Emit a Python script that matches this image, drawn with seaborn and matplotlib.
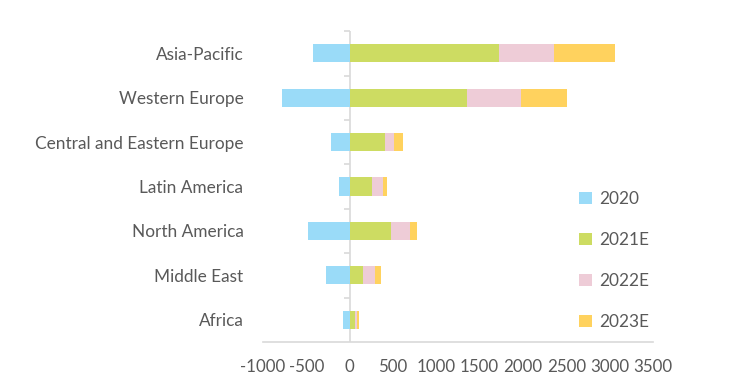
import numpy as np
import pandas as pd
import seaborn as sns
import matplotlib.pyplot as plt
from matplotlib.patches import Patch

regions = ["Asia-Pacific", "Western Europe", "Central and Eastern Europe",
           "Latin America", "North America", "Middle East", "Africa"]
v2020 = [-425, -780, -220, -125, -480, -275, -75]
v2021 = [1725, 1360, 410, 260, 475, 160, 65]
v2022 = [630, 615, 100, 130, 220, 130, 25]
v2023 = [705, 530, 105, 45, 80, 70, 20]

series = ["2020", "2021E", "2022E", "2023E"]
colors = ["#9adbf8", "#cddc62", "#eeccd7", "#ffd25e"]

df = pd.DataFrame({"Region": regions, "2020": v2020, "2021E": v2021,
                   "2022E": v2022, "2023E": v2023})
# cumulative ends for stacking the positive parts
df["c21"] = df["2021E"]
df["c22"] = df["c21"] + df["2022E"]
df["c23"] = df["c22"] + df["2023E"]

sns.set_theme(style="white")
plt.rcParams["font.family"] = ["Lato", "DejaVu Sans"]
plt.rcParams["axes.unicode_minus"] = False
txt = "#595959"

fig = plt.figure(figsize=(7.47, 3.89), dpi=100)
ax = fig.add_axes([0.352, 0.121, 0.522, 0.799])

w = 0.41
for col, c in zip(["c23", "c22", "c21", "2020"], colors[::-1][:3] + [colors[0]]):
    sns.barplot(data=df, x=col, y="Region", color=c, width=w, orient="h",
                linewidth=0, saturation=1, ax=ax)

ax.set_xlim(-1000, 3500)
ax.set_ylim(len(regions) - 0.5, -0.5)
ax.set_xticks(np.arange(-1000, 3501, 500))
ax.set_xlabel("")
ax.set_ylabel("")

for s in ["top", "right", "left"]:
    ax.spines[s].set_visible(False)
ax.spines["bottom"].set_color("#d9d9d9")
ax.spines["bottom"].set_linewidth(1.2)
ax.tick_params(axis="x", direction="in", length=5, color="#d9d9d9", width=1.2,
               pad=12, labelsize=12.2, labelcolor=txt)
ax.tick_params(axis="y", length=0, pad=14, labelsize=12.4, labelcolor=txt)

# category axis sits at x = 0
ax.axvline(0, color="#d9d9d9", lw=1.2, zorder=0.5)
sec = ax.secondary_yaxis(1000 / 4500)
sec.set_yticks(np.arange(-0.5, len(regions) - 0.5, 1))
sec.set_yticklabels([])
sec.tick_params(length=4, color="#d9d9d9", width=1.2, direction="out")
sec.spines["left"].set_visible(False)

handles = [Patch(facecolor=c, edgecolor="none") for c in colors]
ax.legend(handles, series, loc="upper left", bbox_to_anchor=(0.77, 0.535),
          frameon=False, fontsize=12.4, labelcolor=txt, labelspacing=1.45,
          handlelength=0.75, handleheight=0.75, handletextpad=0.45)

fig.savefig("out.png", dpi=100)
